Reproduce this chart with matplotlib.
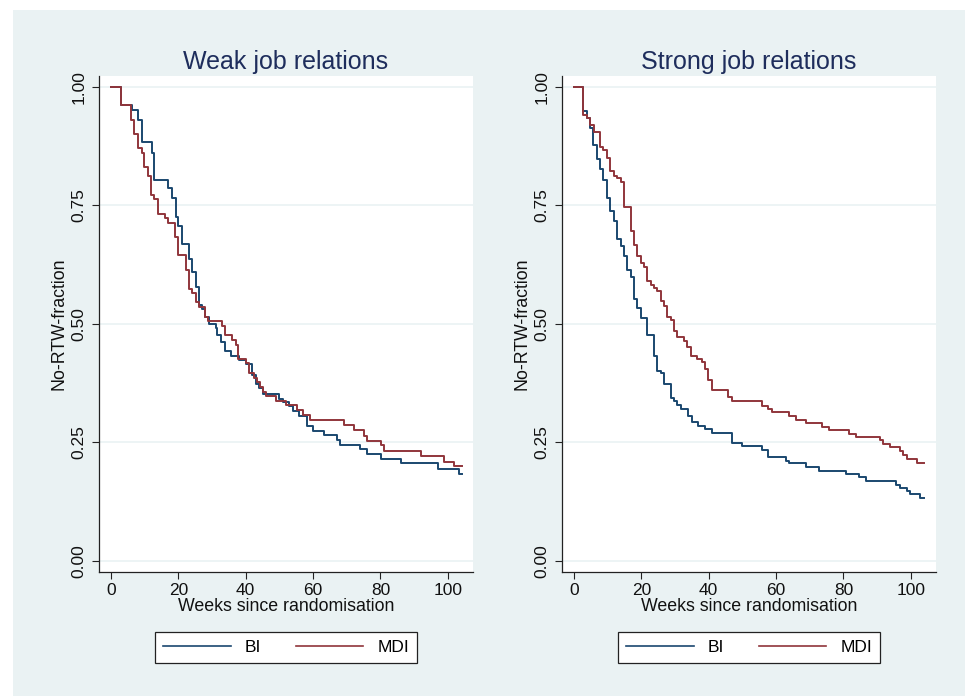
import matplotlib
matplotlib.use("Agg")
import matplotlib.pyplot as plt
from matplotlib.patches import Rectangle

plt.rcParams['font.family'] = ['Liberation Sans', 'DejaVu Sans']

# ---- data ----
weak_bi_t = [0, 2.97, 6.15, 8.11, 9.12, 12.09, 12.86, 17.02, 18.03, 19.22, 19.99, 21.0, 23.17, 23.97,
             25.16, 26.14, 27.1, 27.9, 29.1, 31.1, 31.6, 32.8, 33.8, 35.7, 38.0, 40.0, 42.0, 43.1,
             44.0, 45.0, 50.0, 51.0, 53.0, 54.0, 55.9, 58.1, 60.1, 63.1, 67.2, 68.0, 74.0, 75.9,
             80.1, 86.0, 97.2, 103.2, 104.2]
weak_bi_s = [1.0, 0.961, 0.950, 0.930, 0.883, 0.861, 0.804, 0.786, 0.765, 0.726, 0.707, 0.667, 0.636,
             0.608, 0.577, 0.540, 0.530, 0.514, 0.500, 0.491, 0.477, 0.461, 0.442, 0.431, 0.424, 0.414,
             0.391, 0.373, 0.364, 0.352, 0.342, 0.334, 0.326, 0.315, 0.305, 0.285, 0.274, 0.265, 0.254,
             0.245, 0.236, 0.224, 0.215, 0.205, 0.193, 0.183, 0.183]

weak_mdi_t = [0, 2.97, 5.85, 6.83, 8.11, 9.12, 9.89, 11.08, 11.88, 12.86, 14.05, 16.04, 17.02, 19.01,
              19.99, 22.19, 23.17, 23.97, 25.16, 26.14, 27.92, 28.9, 33.06, 33.86, 36.03, 37.04, 37.8,
              40.0, 41.0, 42.5, 43.3, 44.3, 45.2, 46.0, 49.0, 52.0, 55.2, 57.1, 59.1, 69.2, 72.2, 75.1,
              76.1, 80.1, 81.1, 92.0, 98.9, 101.9, 104.2]
weak_mdi_s = [1.0, 0.961, 0.930, 0.901, 0.871, 0.861, 0.830, 0.811, 0.772, 0.763, 0.732, 0.723, 0.712,
              0.682, 0.644, 0.614, 0.573, 0.564, 0.545, 0.535, 0.515, 0.505, 0.495, 0.475, 0.465, 0.456,
              0.426, 0.417, 0.396, 0.386, 0.376, 0.366, 0.356, 0.348, 0.336, 0.328, 0.317, 0.307, 0.297,
              0.287, 0.275, 0.264, 0.253, 0.243, 0.232, 0.220, 0.209, 0.199, 0.199]

strong_bi_t = [0, 2.76, 3.77, 4.75, 5.73, 6.74, 7.72, 8.70, 9.71, 10.69, 11.88, 12.86, 13.87, 14.85,
               15.83, 16.84, 17.82, 18.80, 19.81, 21.77, 23.76, 24.74, 25.75, 26.73, 28.72, 29.70, 30.68,
               31.69, 33.95, 34.96, 36.92, 38.9, 40.9, 46.8, 49.8, 55.7, 57.7, 62.9, 63.9, 68.8, 72.8,
               80.7, 84.6, 86.6, 95.5, 96.8, 98.8, 99.8, 102.8, 104.0]
strong_bi_s = [1.0, 0.949, 0.934, 0.913, 0.876, 0.847, 0.826, 0.804, 0.766, 0.737, 0.716, 0.679, 0.663,
               0.642, 0.614, 0.598, 0.551, 0.533, 0.512, 0.475, 0.431, 0.401, 0.395, 0.373, 0.343, 0.336,
               0.328, 0.321, 0.306, 0.292, 0.285, 0.278, 0.270, 0.248, 0.241, 0.233, 0.219, 0.211, 0.206,
               0.197, 0.190, 0.183, 0.176, 0.169, 0.160, 0.153, 0.146, 0.141, 0.132, 0.132]

strong_mdi_t = [0, 2.76, 3.77, 4.75, 6.03, 7.72, 8.70, 9.71, 10.69, 11.88, 12.86, 13.87, 14.85, 16.84,
                17.82, 18.80, 19.81, 20.79, 21.77, 22.78, 23.76, 24.74, 25.75, 26.73, 27.71, 28.72, 29.70,
                30.68, 32.67, 33.65, 34.66, 36.62, 37.9, 38.9, 39.9, 40.9, 45.8, 46.8, 55.7, 57.7, 58.7,
                63.9, 65.8, 68.8, 73.7, 75.7, 81.7, 83.7, 90.9, 91.7, 93.9, 96.8, 97.8, 98.8, 101.8, 104.0]
strong_mdi_s = [1.0, 0.941, 0.934, 0.918, 0.904, 0.873, 0.866, 0.850, 0.821, 0.812, 0.807, 0.798, 0.747,
                0.695, 0.665, 0.642, 0.628, 0.620, 0.589, 0.582, 0.575, 0.568, 0.547, 0.537, 0.515, 0.507,
                0.484, 0.471, 0.463, 0.450, 0.432, 0.425, 0.420, 0.404, 0.382, 0.359, 0.345, 0.336, 0.327,
                0.320, 0.313, 0.306, 0.297, 0.290, 0.283, 0.275, 0.268, 0.261, 0.254, 0.247, 0.239, 0.231,
                0.222, 0.215, 0.207, 0.207]

titles = ["Weak job relations", "Strong job relations"]
series_labels = ["BI", "MDI"]
x_ticks = [0, 20, 40, 60, 80, 100]
y_ticks = [0.0, 0.25, 0.5, 0.75, 1.0]
y_ticklabels = ["0.00", "0.25", "0.50", "0.75", "1.00"]
x_label = "Weeks since randomisation"
y_label = "No-RTW-fraction"

colors = ["#1a476f", "#90353b"]
bg = "#eaf2f3"

fig = plt.figure(figsize=(9.65, 6.96), dpi=100)
fig.patch.set_facecolor("white")
fig.add_artist(Rectangle((13 / 965, 0), 1, 1 - 10 / 696, transform=fig.transFigure,
                         facecolor=bg, edgecolor="none", zorder=-10))

panels = [
    (weak_bi_t, weak_bi_s, weak_mdi_t, weak_mdi_s),
    (strong_bi_t, strong_bi_s, strong_mdi_t, strong_mdi_s),
]
lefts = [99.3 / 965, 562.3 / 965]
W = 373.4 / 965
B = (696 - 572.3) / 696
H = 496.6 / 696

for i, (bt, bs, mt, ms) in enumerate(panels):
    ax = fig.add_axes([lefts[i], B, W, H])
    ax.set_facecolor("white")
    ax.step(bt, bs, where="post", color=colors[0], lw=1.4, label=series_labels[0], zorder=3)
    ax.step(mt, ms, where="post", color=colors[1], lw=1.4, label=series_labels[1], zorder=3)
    ax.set_xlim(-3.47, 107.4)
    ax.set_ylim(-0.0245, 1.023)
    ax.set_xticks(x_ticks)
    ax.set_yticks(y_ticks)
    ax.set_yticklabels(y_ticklabels, rotation=90, va="center")
    ax.grid(axis="y", color=bg, lw=1.2, zorder=0)
    ax.set_axisbelow(True)
    for s in ["top", "right"]:
        ax.spines[s].set_visible(False)
    for s in ["left", "bottom"]:
        ax.spines[s].set_color("#222222")
        ax.spines[s].set_linewidth(0.9)
    ax.tick_params(axis="both", length=5, width=0.8, color="#222222", labelsize=12.5,
                   labelcolor="#111111")
    ax.tick_params(axis="x", pad=2.5)
    ax.tick_params(axis="y", pad=4)
    ax.set_xlabel(x_label, fontsize=12.8, labelpad=0, color="#111111")
    ax.set_ylabel(y_label, fontsize=12.8, labelpad=3, color="#111111")
    ax.set_title(titles[i], fontsize=18, color="#1e2d5c", pad=5)
    leg = ax.legend(loc="upper center", bbox_to_anchor=(0.5, -0.121), ncol=2, frameon=True,
                    fancybox=False, framealpha=1, edgecolor="#222222", fontsize=12.5,
                    handlelength=3.9, handletextpad=0.8, columnspacing=2.0, borderpad=0.45,
                    borderaxespad=0)
    leg.get_frame().set_linewidth(0.9)
    for line in leg.get_lines():
        line.set_linewidth(1.2)

fig.savefig("out.png", dpi=100, facecolor=fig.get_facecolor())
